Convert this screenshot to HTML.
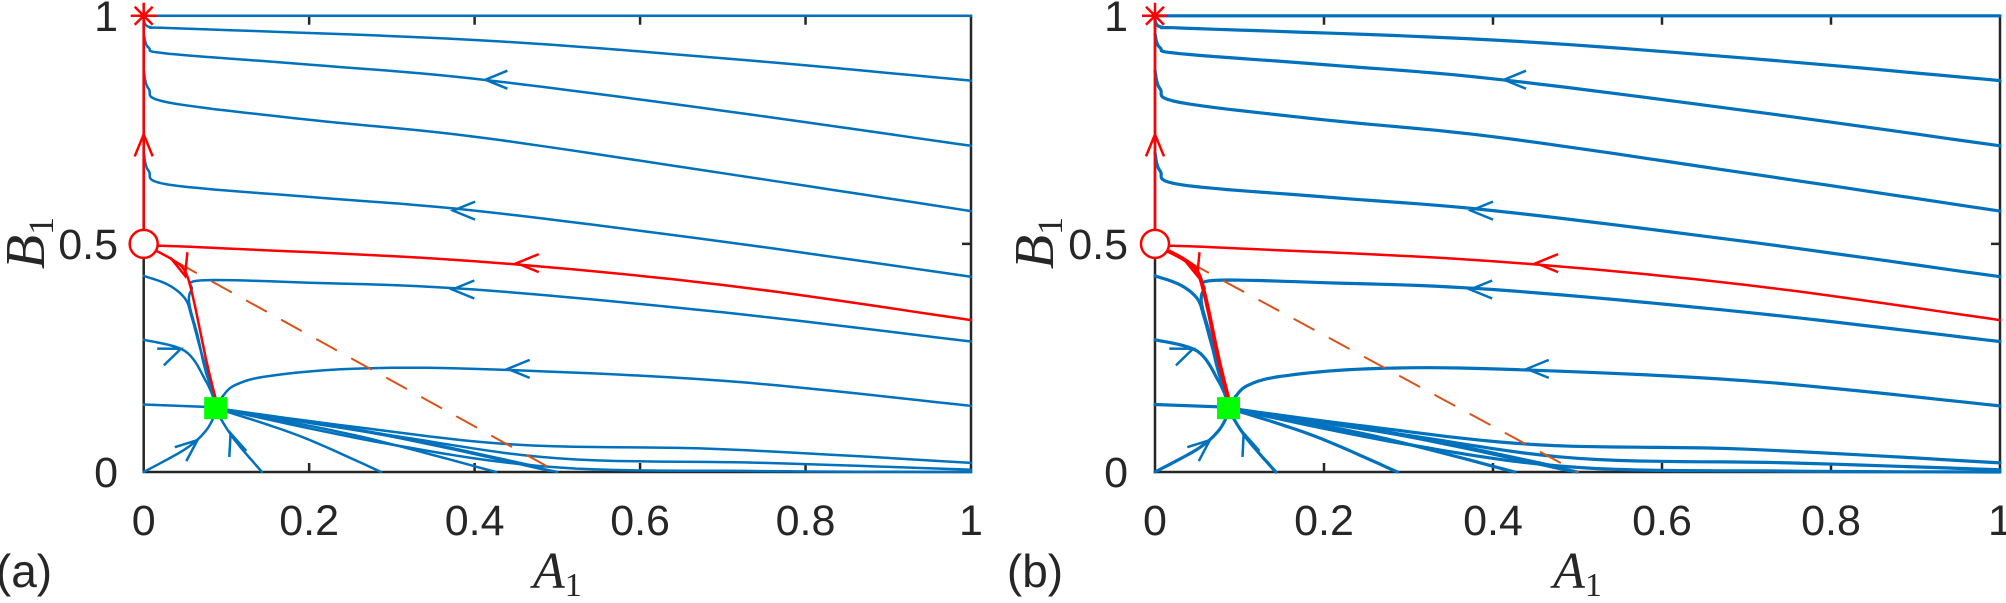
<!DOCTYPE html>
<html><head><meta charset="utf-8">
<style>
html,body{margin:0;padding:0;background:#fff;}
svg{display:block;}
text{font-family:"Liberation Sans",sans-serif;fill:#262626;}
.serif{font-family:"Liberation Serif",serif;font-style:italic;}
</style></head>
<body>
<svg id="s" width="2006" height="603" viewBox="0 0 2006 603" xmlns="http://www.w3.org/2000/svg"></svg>
<script>
const S=document.getElementById('s');
let out='';
function panel(x0,W,label,labx,ylabx,ytickx,thick){
  const y0=472,H=456.2;
  const P=(a,b)=>[x0+W*a,y0-H*b];
  const path=(pts,col,w,extra)=>{
    let d='';pts.forEach((p,i)=>{const q=P(p[0],p[1]);d+=(i?'L':'M')+q[0].toFixed(1)+' '+q[1].toFixed(1);});
    out+=`<path d="${d}" fill="none" stroke="${col}" stroke-width="${w}" stroke-linejoin="round" stroke-linecap="round" ${extra||''}/>`;
  };
  const smooth=(pts)=>{const r=[];for(let i=0;i<pts.length-1;i++){const p0=pts[Math.max(0,i-1)],p1=pts[i],p2=pts[i+1],p3=pts[Math.min(pts.length-1,i+2)];
    for(let t=0;t<1;t+=0.1){const t2=t*t,t3=t2*t;r.push([0,1].map(k=>0.5*((2*p1[k])+(-p0[k]+p2[k])*t+(2*p0[k]-5*p1[k]+4*p2[k]-p3[k])*t2+(-p0[k]+3*p1[k]-3*p2[k]+p3[k])*t3)));}}
    r.push(pts[pts.length-1]);return r;};
  const arrow=(a,b,dx,dy,col)=>{const p=P(a,b);const L=Math.hypot(dx,dy);const ux=dx/L,uy=dy/L;const l=22,h=9;
    const bx=p[0]-ux*l,by=p[1]-uy*l;
    out+=`<path d="M${(bx-uy*h).toFixed(1)} ${(by+ux*h).toFixed(1)}L${p[0].toFixed(1)} ${p[1].toFixed(1)}L${(bx+uy*h).toFixed(1)} ${(by-ux*h).toFixed(1)}" fill="none" stroke="${col}" stroke-width="2.5"/>`;};
  const B='#0072BD',R='#FF0000',w=thick;
  const sq=[0.087,0.14];
  out+=`<rect x="${x0}" y="${y0-H}" width="${W}" height="${H}" fill="none" stroke="#262626" stroke-width="2.5"/>`;
  [0.2,0.4,0.6,0.8].forEach(t=>{const x=x0+W*t;out+=`<path d="M${x} ${y0}v-9M${x} ${y0-H}v9" stroke="#262626" stroke-width="2.5"/>`;});
  const ym=y0-H*0.5;out+=`<path d="M${x0} ${ym}h9M${x0+W} ${ym}h-9" stroke="#262626" stroke-width="2.5"/>`;
  path([[0,1],[1,1]],B,w);
  path(smooth([[0,0.99],[0.008,0.975],[0.05,0.972],[0.4,0.947],[0.7,0.907],[1,0.858]]),B,w);
  path(smooth([[0,0.96],[0.006,0.93],[0.03,0.917],[0.2,0.893],[0.4,0.862],[0.7,0.792],[1,0.715]]),B,w);
  path(smooth([[0,0.88],[0.006,0.84],[0.03,0.81],[0.2,0.772],[0.4,0.735],[0.7,0.655],[1,0.572]]),B,w);
  path(smooth([[0,0.7],[0.006,0.66],[0.03,0.63],[0.2,0.603],[0.4,0.573],[0.7,0.505],[1,0.428]]),B,w);
  path(smooth([[1,0.286],[0.7,0.35],[0.4,0.40],[0.2,0.415],[0.07,0.42],[0.058,0.40],[0.055,0.37],[0.065,0.3],[0.075,0.22],[0.087,0.16]]),B,w);
  path(smooth([[0,0.43],[0.03,0.41],[0.05,0.38],[0.058,0.34],[0.07,0.26],[0.087,0.16]]),B,w);
  path(smooth([[1,0.145],[0.7,0.2],[0.4,0.226],[0.25,0.226],[0.15,0.21],[0.11,0.19],[0.095,0.165]]),B,w);
  path([[0,0.148],[0.087,0.142]],B,w);
  path(smooth([[0,0.29],[0.05,0.265],[0.075,0.2],[0.087,0.15]]),B,w);
  path(smooth([[0,0],[0.05,0.05],[0.075,0.09],[0.087,0.13]]),B,w);
  path(smooth([[0.143,0],[0.11,0.07],[0.092,0.12]]),B,w);
  [[0.287,0],[0.426,0],[0.5,0],[0.49,0.003],[0.48,0.01]].forEach(e=>path(smooth([sq,[(sq[0]+e[0])/2,(sq[1]+e[1])/2+0.01],e]),B,w));
  path(smooth([sq,[0.25,0.1],[0.45,0.06],[0.7,0.05],[1,0.02]]),B,w);
  path(smooth([sq,[0.3,0.08],[0.5,0.03],[0.75,0.02],[1,0.005]]),B,w);
  path(smooth([sq,[0.3,0.06],[0.5,0.01],[0.75,0.002],[1,0]]),B,w);
  path([[0.04,0.46],[0.5,0]],'#D95319',2,'stroke-dasharray="22 18"');
  path([[0,0.53],[0,0.985]],R,2.5);
  path(smooth([[0.017,0.496],[0.1,0.49],[0.4,0.462],[0.7,0.41],[1,0.333]]),R,2.5);
  path(smooth([[0.015,0.485],[0.035,0.465],[0.05,0.44],[0.06,0.38],[0.075,0.25],[0.087,0.16]]),R,thick>3?4:2.5);
  arrow(0.413,0.86,-1,0,B);arrow(0.374,0.573,-1,0,B);arrow(0.451,0.458,-1,0,R);
  arrow(0.373,0.40,-1,0,B);arrow(0.44,0.226,-1,0,B);
  arrow(0,0.74,0,-1,R);arrow(0.05,0.43,0.3,1,R);
  arrow(0.045,0.27,1,-0.4,B);arrow(0.065,0.07,0.6,-0.5,B);arrow(0.105,0.085,-0.35,-1,B);
  const c=P(0,0.5);out+=`<ellipse cx="${c[0]}" cy="${c[1]}" rx="14" ry="14" fill="#fff" stroke="${R}" stroke-width="2.5"/>`;
  const st=P(0,1);out+=`<path d="M${st[0]-13} ${st[1]}h26M${st[0]} ${st[1]-13}v26M${st[0]-9} ${st[1]-9}l18 18M${st[0]-9} ${st[1]+9}l18 -18" stroke="${R}" stroke-width="2.5"/>`;
  const g=P(sq[0],sq[1]);out+=`<rect x="${g[0]-11.5}" y="${g[1]-11}" width="23" height="22" fill="#00FF00"/>`;
  ['0','0.2','0.4','0.6','0.8','1'].forEach((t,i)=>{out+=`<text x="${x0+W*i*0.2}" y="535" font-size="43" text-anchor="middle">${t}</text>`;});
  [['0',0],['0.5',0.5],['1',1]].forEach(([t,v])=>{out+=`<text x="${ytickx}" y="${y0-H*v+15}" font-size="43" text-anchor="end">${t}</text>`;});
  out+=`<text class="serif" x="${x0+W/2}" y="588" font-size="52" text-anchor="middle">A<tspan font-size="34" dy="8" font-style="normal">1</tspan></text>`;
  out+=`<text class="serif" transform="translate(${ylabx},243) rotate(-90)" font-size="56" text-anchor="middle">B<tspan font-size="36" dy="9" font-style="normal">1</tspan></text>`;
  out+=`<text x="${labx}" y="587" font-size="46" text-anchor="middle">${label}</text>`;
}
panel(143.7,827.3,'(a)',24,44,118,2.5);
panel(1155,845,'(b)',1035,1053,1128,3.2);
S.innerHTML=out;
</script>
</body></html>
